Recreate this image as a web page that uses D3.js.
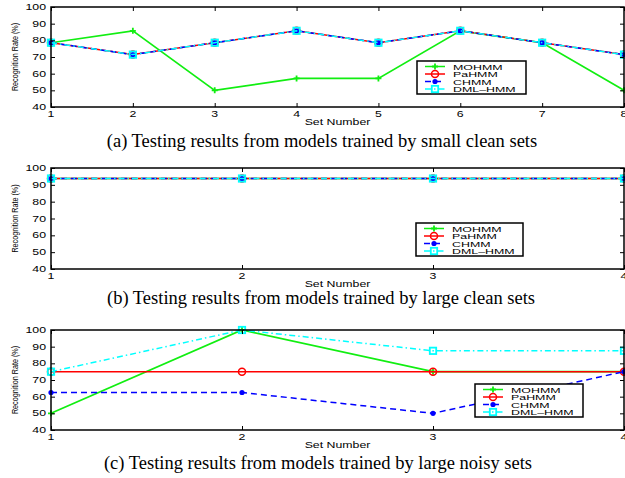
<!DOCTYPE html>
<html><head><meta charset="utf-8">
<script src="https://cdn.jsdelivr.net/npm/d3@7"></script>
<style>body{margin:0;background:#fff}svg{display:block}</style>
</head><body>
<svg id="chart" width="625" height="478"></svg>
<script>
// ---- data ----
const seriesNames = ["MOHMM", "PaHMM", "CHMM", "DML–HMM"];
const yTicks = [40, 50, 60, 70, 80, 90, 100];
const setsA = [1, 2, 3, 4, 5, 6, 7, 8];
const mohmmA = [78.57, 85.71, 50, 57.14, 57.14, 85.71, 78.57, 50];
const pahmmA = [78.57, 71.43, 78.57, 85.71, 78.57, 85.71, 78.57, 71.43];
const chmmA = [78.57, 71.43, 78.57, 85.71, 78.57, 85.71, 78.57, 71.43];
const dmlA = [78.57, 71.43, 78.57, 85.71, 78.57, 85.71, 78.57, 71.43];
const setsB = [1, 2, 3, 4];
const mohmmB = [93.75, 93.75, 93.75, 93.75];
const pahmmB = [93.75, 93.75, 93.75, 93.75];
const chmmB = [93.75, 93.75, 93.75, 93.75];
const dmlB = [93.75, 93.75, 93.75, 93.75];
const setsC = [1, 2, 3, 4];
const mohmmC = [50, 100, 75, 75];
const pahmmC = [75, 75, 75, 75];
const chmmC = [62.5, 62.5, 50, 75];
const dmlC = [75, 100, 87.5, 87.5];
const captions = [
  "(a) Testing results from models trained by small clean sets",
  "(b) Testing results from models trained by large clean sets",
  "(c) Testing results from models trained by large noisy sets"
];
const xLabel = "Set Number";
const yLabel = "Recognition Rate (%)";

// ---- styles ----
const styles = [
  {color: "#11ee11", dash: null, marker: "plus"},
  {color: "#ff0000", dash: null, marker: "circle"},
  {color: "#0000ff", dash: "6,4", marker: "dot"},
  {color: "#00ffff", dash: "6,3,1.5,3", marker: "square"}
];

const panels = [
  {sets: setsA, series: [mohmmA, pahmmA, chmmA, dmlA], top: 7, bottom: 107, legend: {x: 417, y: 61, w: 109, h: 33}, capX: 322, capY: 147},
  {sets: setsB, series: [mohmmB, pahmmB, chmmB, dmlB], top: 168, bottom: 269, legend: {x: 416, y: 223, w: 107, h: 33}, capX: 321, capY: 304},
  {sets: setsC, series: [mohmmC, pahmmC, chmmC, dmlC], top: 330, bottom: 430, legend: {x: 475, y: 384, w: 108, h: 33}, capX: 318, capY: 469}
];

const svg = d3.select("#chart");
const left = 51, right = 624;
const SX = 1.45;

function stretchedText(g, x, y, txt, size, anchor, sx) {
  return g.append("text")
    .attr("transform", `translate(${x},${y}) scale(${sx},1)`)
    .attr("text-anchor", anchor)
    .attr("font-family", "'Liberation Sans', Arial, Helvetica, sans-serif")
    .attr("font-size", size)
    .attr("fill", "#000")
    .text(txt);
}

function drawMarker(g, type, x, y, color) {
  if (type === "plus") {
    g.append("path").attr("d", `M${x-3},${y}H${x+3}M${x},${y-3}V${y+3}`)
      .attr("stroke", color).attr("stroke-width", 1.8).attr("fill", "none");
  } else if (type === "circle") {
    g.append("circle").attr("cx", x).attr("cy", y).attr("r", 3.5)
      .attr("stroke", color).attr("stroke-width", 1.5).attr("fill", "none");
  } else if (type === "dot") {
    g.append("circle").attr("cx", x).attr("cy", y).attr("r", 2.6)
      .attr("fill", color).attr("stroke", "none");
  } else if (type === "square") {
    g.append("rect").attr("x", x-3.2).attr("y", y-3.2).attr("width", 6.4).attr("height", 6.4)
      .attr("stroke", color).attr("stroke-width", 1.8).attr("fill", "none");
  }
}

panels.forEach((p, pi) => {
  const g = svg.append("g");
  const x = d3.scaleLinear().domain(d3.extent(p.sets)).range([left, right]);
  const y = d3.scaleLinear().domain([40, 100]).range([p.bottom, p.top]);

  // series lines
  const line = d3.line().x((d, i) => x(p.sets[i])).y(d => y(d));
  p.series.forEach((vals, si) => {
    const st = styles[si];
    g.append("path").datum(vals).attr("d", line)
      .attr("fill", "none").attr("stroke", st.color).attr("stroke-width", si === 0 ? 1.7 : 1.5)
      .attr("stroke-dasharray", st.dash);
    vals.forEach((v, i) => drawMarker(g, st.marker, x(p.sets[i]), y(v), st.color));
  });

  // axes: ticks inward on all sides
  const axL = d3.axisLeft(y).tickValues(yTicks).tickSize(-4).tickFormat("");
  const axR = d3.axisRight(y).tickValues(yTicks).tickSize(-4).tickFormat("");
  const axB = d3.axisBottom(x).tickValues(p.sets).tickSize(-4).tickFormat("");
  const axT = d3.axisTop(x).tickValues(p.sets).tickSize(-4).tickFormat("");
  [[axL, `translate(${left},0)`], [axR, `translate(${right},0)`],
   [axB, `translate(0,${p.bottom})`], [axT, `translate(0,${p.top})`]].forEach(([ax, tr]) => {
    const a = g.append("g").attr("transform", tr).call(ax);
    a.select(".domain").remove();
    a.selectAll("line").attr("stroke", "#000").attr("stroke-width", 1);
  });
  g.append("rect").attr("x", left).attr("y", p.top).attr("width", right - left).attr("height", p.bottom - p.top)
    .attr("fill", "none").attr("stroke", "#000").attr("stroke-width", 1.5);

  // tick labels
  yTicks.forEach(t => stretchedText(g, 46, y(t) + 3, String(t), 8.5, "end", SX));
  p.sets.forEach(s => stretchedText(g, x(s), p.bottom + 10, String(s), 8.5, "middle", SX));
  stretchedText(g, (left + right) / 2, p.bottom + 18, xLabel, 8.5, "middle", SX);

  // y label (rotated, narrow)
  g.append("text")
    .attr("transform", `translate(18,${(p.top + p.bottom) / 2}) rotate(-90) scale(0.8,1)`)
    .attr("text-anchor", "middle")
    .attr("font-family", "'Liberation Sans', Arial, sans-serif")
    .attr("font-size", 9).attr("fill", "#000").text(yLabel);

  // legend
  const L = p.legend;
  const lg = g.append("g");
  lg.append("rect").attr("x", L.x).attr("y", L.y).attr("width", L.w).attr("height", L.h)
    .attr("fill", "#fff").attr("stroke", "#000").attr("stroke-width", 1.5);
  seriesNames.forEach((name, si) => {
    const st = styles[si];
    const ly = L.y + 5.5 + si * 7.5;
    lg.append("line").attr("x1", L.x + 8).attr("x2", L.x + 28).attr("y1", ly).attr("y2", ly)
      .attr("stroke", st.color).attr("stroke-width", 1.5).attr("stroke-dasharray", st.dash);
    drawMarker(lg, st.marker, L.x + 18, ly, st.color);
    stretchedText(lg, L.x + 36, ly + 3, name, 8, "start", 1.55);
  });

  // caption
  svg.append("text").attr("x", p.capX).attr("y", p.capY).attr("text-anchor", "middle")
    .attr("font-family", "'Liberation Serif', 'Times New Roman', serif")
    .attr("font-size", 18.5).attr("fill", "#000").text(captions[pi]);
});
</script>
</body></html>
